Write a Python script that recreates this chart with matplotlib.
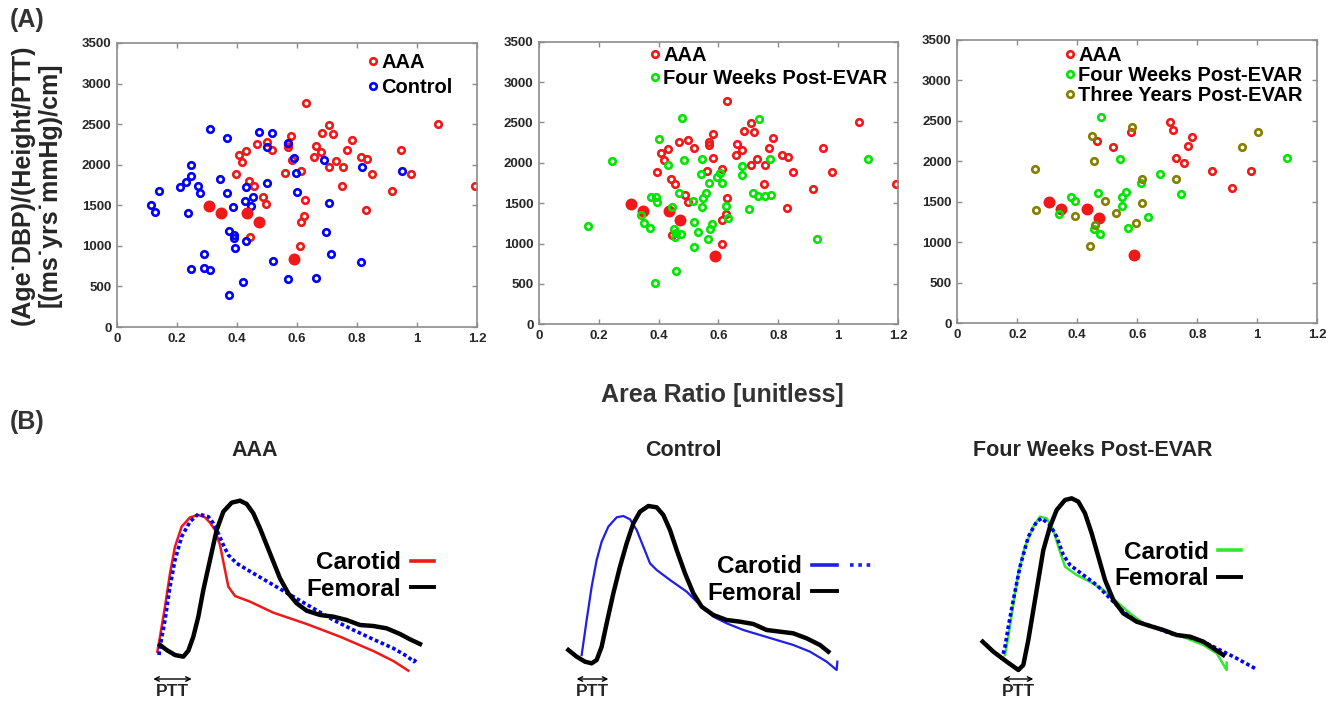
import numpy as np
import matplotlib
matplotlib.use('Agg')
import matplotlib.pyplot as plt
from matplotlib.lines import Line2D
from matplotlib.legend_handler import HandlerTuple
from matplotlib.ticker import FormatStrFormatter

plt.rcParams['font.family'] = ['Liberation Sans', 'DejaVu Sans']
plt.rcParams['font.weight'] = 'bold'

# ---- (A) scatter data: area ratio vs (Age*DBP)/(Height/PTT) ----
aaa_x = [0.629, 0.708, 0.719, 0.684, 0.580, 0.569, 0.569, 0.499, 0.467, 0.518, 0.430, 0.408,
         0.417, 0.396, 0.440, 0.456, 0.487, 0.497, 0.444, 0.561, 0.583, 0.613, 0.657, 0.662,
         0.679, 0.708, 0.729, 0.754, 0.768, 0.782, 0.751, 0.812, 0.833, 0.850, 0.917, 0.948,
         0.979, 1.070, 1.194, 0.627, 0.624, 0.613, 0.611, 0.830]
aaa_y = [2763, 2491, 2384, 2397, 2360, 2261, 2216, 2277, 2257, 2183, 2174, 2117,
         2030, 1882, 1804, 1738, 1598, 1511, 1108, 1903, 2063, 1919, 2096, 2236,
         2154, 1968, 2047, 1977, 2187, 2302, 1742, 2092, 2071, 1882, 1672, 2183,
         1886, 2500, 1742, 1565, 1367, 1293, 997, 1441]
# AAA patients that also have the three-year follow-up
aaa_3yr_idx = [1, 2, 29, 28, 26, 27, 4, 9, 8, 33, 36, 34]
# highlighted AAA patients (filled)
aaa_fill_x = [0.306, 0.346, 0.434, 0.472, 0.589]
aaa_fill_y = [1495, 1408, 1408, 1297, 840]

ctrl_x = [0.113, 0.126, 0.141, 0.211, 0.231, 0.247, 0.247, 0.238, 0.269, 0.278, 0.309, 0.344,
          0.367, 0.367, 0.387, 0.374, 0.389, 0.391, 0.392, 0.429, 0.426, 0.430, 0.447, 0.453,
          0.472, 0.500, 0.500, 0.516, 0.569, 0.589, 0.597, 0.599, 0.570, 0.519, 0.420, 0.374,
          0.247, 0.290, 0.311, 0.289, 0.662, 0.690, 0.698, 0.708, 0.713, 0.814, 0.817, 0.951]
ctrl_y = [1503, 1421, 1672, 1725, 1791, 1857, 2001, 1404, 1738, 1647, 2446, 1828,
          2335, 1647, 1474, 1178, 1132, 1100, 968, 1058, 1552, 1721, 1487, 1606,
          2409, 1775, 2224, 2388, 2265, 2088, 1894, 1668, 589, 819, 552, 391,
          712, 733, 700, 894, 609, 2055, 1165, 1524, 894, 795, 1977, 1923]

fw_x = [0.245, 0.165, 0.401, 0.479, 0.735, 0.431, 0.484, 0.545, 0.543, 0.568, 0.595, 0.606,
        0.611, 0.680, 0.680, 0.771, 0.715, 0.732, 0.754, 0.777, 0.702, 0.626, 0.632, 0.559,
        0.548, 0.546, 0.515, 0.468, 0.446, 0.373, 0.390, 0.393, 0.342, 0.350, 0.370, 0.519,
        0.530, 0.565, 0.570, 0.577, 0.450, 0.459, 0.475, 0.455, 0.519, 0.459, 0.388, 0.929, 1.101]
fw_y = [2023, 1222, 2295, 2559, 2539, 1977, 2035, 2043, 1858, 1754, 1820, 1878,
        1746, 1965, 1845, 2043, 1631, 1589, 1589, 1598, 1424, 1470, 1313, 1626,
        1560, 1457, 1523, 1622, 1457, 1581, 1581, 1519, 1354, 1259, 1189, 1267,
        1143, 1053, 1176, 1238, 1176, 1127, 1115, 1086, 962, 665, 516, 1053, 2043]

fw3_x = [0.479, 0.544, 0.378, 0.392, 0.468, 0.549, 0.562, 0.548, 0.676, 0.613, 0.744, 0.637,
         0.568, 0.456, 0.476, 0.340, 1.098]
fw3_y = [2553, 2034, 1565, 1511, 1614, 1557, 1622, 1450, 1845, 1738, 1594, 1314,
         1174, 1161, 1108, 1347, 2047]

ty_x = [0.260, 0.264, 0.392, 0.449, 0.457, 0.584, 0.616, 0.616, 0.494, 0.529, 0.597, 0.459,
        0.444, 0.728, 0.949, 1.003]
ty_y = [1903, 1400, 1326, 2314, 2005, 2426, 1779, 1491, 1511, 1367, 1244, 1215,
        959, 1779, 2183, 2368]

# ---- (B) representative waveforms (time, amplitude in arbitrary units) ----
aaa_car_t = [52, 60, 75, 90, 105, 125, 150, 175, 195, 210, 225, 240, 255, 265, 285, 330, 400, 500, 600, 700, 760, 805]
aaa_car_a = [145, 190, 280, 380, 460, 520, 548, 555, 548, 532, 510, 465, 390, 340, 312, 295, 262, 228, 190, 147, 117, 88]
aaa_ref_t = [57, 62, 75, 90, 105, 125, 150, 175, 205, 220, 235, 250, 265, 290, 340, 400, 460, 520, 580, 640, 700, 760, 800, 822, 828]
aaa_ref_a = [135, 170, 240, 340, 420, 490, 535, 558, 550, 530, 500, 465, 435, 410, 380, 345, 310, 275, 240, 210, 182, 155, 132, 115, 122]
aaa_fem_t = [60, 80, 105, 130, 145, 160, 175, 190, 210, 230, 250, 275, 300, 320, 340, 360, 380, 400, 420, 445,
             470, 500, 540, 580, 620, 660, 700, 740, 780, 810, 840]
aaa_fem_a = [165, 150, 135, 130, 148, 190, 250, 330, 420, 510, 565, 592, 598, 588, 560, 515, 465, 415, 365, 320,
             290, 268, 255, 250, 240, 225, 222, 215, 198, 182, 168]

ctl_car_t = [65, 80, 95, 110, 125, 145, 170, 190, 210, 230, 250, 270, 290, 330, 380, 420, 460, 500, 550, 600,
             650, 700, 750, 800, 830, 832]
ctl_car_a = [135, 240, 340, 420, 475, 520, 548, 552, 542, 510, 460, 410, 390, 360, 325, 285, 250, 230, 210, 195,
             180, 165, 145, 115, 90, 115]
ctl_fem_t = [25, 50, 75, 95, 110, 125, 140, 160, 180, 200, 220, 240, 265, 290, 310, 330, 350, 375, 400, 425,
             460, 500, 540, 580, 620, 660, 700, 740, 780, 805]
ctl_fem_a = [150, 130, 115, 110, 120, 160, 230, 320, 400, 470, 530, 565, 582, 578, 555, 510, 450, 380, 320, 280,
             255, 240, 235, 228, 210, 205, 200, 185, 165, 145]

fw_car_t = [105, 115, 130, 145, 165, 190, 210, 230, 250, 265, 285, 320, 360, 400, 440, 480, 520, 560, 600, 650,
            700, 740, 770, 770]
fw_car_a = [135, 190, 290, 380, 460, 520, 550, 545, 510, 460, 400, 375, 355, 330, 295, 260, 230, 215, 200, 185,
            165, 140, 90, 112]
fw_ref_t = [95, 105, 115, 130, 150, 175, 200, 215, 240, 260, 280, 300, 340, 380, 420, 460, 500, 550, 600, 650,
            700, 750, 800, 860]
fw_ref_a = [120, 160, 220, 300, 400, 490, 535, 545, 525, 490, 435, 405, 375, 345, 305, 265, 235, 220, 200, 190,
            175, 150, 125, 92]
fw_fem_t = [38, 70, 110, 145, 160, 175, 190, 205, 220, 240, 260, 285, 305, 325, 345, 365, 385, 405, 430, 460,
            500, 540, 580, 620, 660, 700, 730, 760]
fw_fem_a = [175, 145, 115, 90, 105, 180, 270, 360, 450, 520, 570, 600, 605, 595, 560, 500, 430, 360, 300, 260,
            235, 222, 210, 195, 190, 175, 155, 135]

ptt_start = [40, 50, 100]
ptt_end = [155, 145, 190]

RED = '#f01818'
BLUE = '#0000ff'
GREEN = '#00e600'
OLIVE = '#857f00'
TXT = '#262626'

fig = plt.figure(figsize=(13.38, 7.01), dpi=100)

ax1 = fig.add_axes([0.08744, 0.53352, 0.26906, 0.40514])
ax2 = fig.add_axes([0.40284, 0.53738, 0.26831, 0.40314])
ax3 = fig.add_axes([0.71547, 0.53880, 0.26906, 0.40414])

ms_open = dict(linestyle='none', marker='o', mfc='none', ms=4.7, mew=1.9)
ms_fill = dict(linestyle='none', marker='o', ms=8.6, mew=0)
leg_kw = dict(loc='upper left', frameon=False, fontsize=14.5, handlelength=0.5,
              handletextpad=0.15, borderpad=0, borderaxespad=0)

def style_scatter(ax):
    ax.set_xlim(0, 1.2)
    ax.set_ylim(0, 3500)
    ax.set_xticks(np.arange(0, 1.21, 0.2))
    ax.set_yticks(np.arange(0, 3501, 500))
    ax.xaxis.set_major_formatter(FormatStrFormatter('%g'))
    ax.tick_params(direction='in', length=3.5, width=1, color='#8c8c8c', labelcolor=TXT,
                   labelsize=9.5, top=True, right=True, pad=4)
    for s in ax.spines.values():
        s.set_color('#8c8c8c')
        s.set_linewidth(1.2)

# panel 1: AAA vs control
h1, = ax1.plot(aaa_x, aaa_y, color=RED, mec=RED, **ms_open)
h2, = ax1.plot(ctrl_x, ctrl_y, color=BLUE, mec=BLUE, **ms_open)
ax1.plot(aaa_fill_x, aaa_fill_y, color=RED, **ms_fill)
style_scatter(ax1)
ax1.legend([h1, h2], ['AAA', 'Control'], bbox_to_anchor=(0.698, 0.964), labelspacing=0.28, **leg_kw)

# panel 2: AAA vs four weeks post-EVAR
h1, = ax2.plot(aaa_x, aaa_y, color=RED, mec=RED, **ms_open)
ax2.plot(aaa_fill_x, aaa_fill_y, color=RED, **ms_fill)
h2, = ax2.plot(fw_x, fw_y, color=GREEN, mec=GREEN, **ms_open)
style_scatter(ax2)
ax2.legend([h1, h2], ['AAA', 'Four Weeks Post-EVAR'], bbox_to_anchor=(0.309, 0.984),
           labelspacing=0.2, **leg_kw)

# panel 3: AAA vs four weeks vs three years post-EVAR
a3x = [aaa_x[i] for i in aaa_3yr_idx]
a3y = [aaa_y[i] for i in aaa_3yr_idx]
h1, = ax3.plot(a3x, a3y, color=RED, mec=RED, **ms_open)
ax3.plot(aaa_fill_x, aaa_fill_y, color=RED, **ms_fill)
h2, = ax3.plot(fw3_x, fw3_y, color=GREEN, mec=GREEN, **ms_open)
h3, = ax3.plot(ty_x, ty_y, color=OLIVE, mec=OLIVE, **ms_open)
style_scatter(ax3)
ax3.legend([h1, h2, h3], ['AAA', 'Four Weeks Post-EVAR', 'Three Years Post-EVAR'],
           bbox_to_anchor=(0.299, 0.979), labelspacing=0.06, **leg_kw)

fig.text(36 / 1338, 1 - 185 / 701, '(Age˙DBP)/(Height/PTT)\n[(ms˙yrs˙mmHg)/cm]', rotation=90,
         ha='center', va='center', fontsize=18, linespacing=1.15, color=TXT)
fig.text(722 / 1338, 1 - 395 / 701, 'Area Ratio [unitless]', ha='center', va='center',
         fontsize=18, color='#333333')
fig.text(27 / 1338, 1 - 20 / 701, '(A)', ha='center', va='center', fontsize=18, color='#333333')
fig.text(27 / 1338, 1 - 422 / 701, '(B)', ha='center', va='center', fontsize=18, color='#333333')

# ---- (B) waveforms ----
b_left = [140 / 1338, 560 / 1338, 970 / 1338]
b_titles = ['AAA', 'Control', 'Four Weeks Post-EVAR']
b_title_x = [255, 683, 1093]
axb = [fig.add_axes([l, 0.00143, 300 / 1338, 220 / 701]) for l in b_left]
for ax in axb:
    ax.set_xlim(0, 900)
    ax.set_ylim(0, 660)
    ax.axis('off')
for x, t in zip(b_title_x, b_titles):
    fig.text(x / 1338, 1 - 450 / 701, t, ha='center', va='center', fontsize=15.5, color=TXT)

dots = (0, (1, 0.75))
bleg_kw = dict(loc='upper left', markerfirst=False, frameon=False, fontsize=17.5,
               handletextpad=0.4, labelspacing=0.15, borderpad=0, borderaxespad=0)

ax = axb[0]
ax.plot(aaa_car_t, aaa_car_a, color=RED, lw=1.8)
ax.plot(aaa_ref_t, aaa_ref_a, color=BLUE, lw=2.6, linestyle=dots)
ax.plot(aaa_fem_t, aaa_fem_a, color='black', lw=3.2, solid_joinstyle='round')
lg_aaa = [Line2D([], [], color=RED, lw=2.6), Line2D([], [], color='black', lw=2.8)]
ax.legend(lg_aaa, ['Carotid', 'Femoral'], bbox_to_anchor=(0.555, 0.677), handlelength=0.95, **bleg_kw)

ax = axb[1]
ax.plot(ctl_car_t, ctl_car_a, color='#1f1fe6', lw=1.6)
ax.plot(ctl_fem_t, ctl_fem_a, color='black', lw=3.2, solid_joinstyle='round')
lg_ctl = [(Line2D([], [], color='#1f1fe6', lw=2.6),
           Line2D([], [], color='#1f1fe6', lw=2.6, linestyle=(0, (1, 1.3)))),
          (Line2D([], [], color='black', lw=2.8), Line2D([], [], color='none'))]
ax.legend(lg_ctl, ['Carotid', 'Femoral'], bbox_to_anchor=(0.492, 0.658), handlelength=2.6,
          handler_map={tuple: HandlerTuple(ndivide=2, pad=0.55)}, **bleg_kw)

ax = axb[2]
ax.plot(fw_car_t, fw_car_a, color='#33e633', lw=1.8)
ax.plot(fw_ref_t, fw_ref_a, color=BLUE, lw=2.6, linestyle=dots)
ax.plot(fw_fem_t, fw_fem_a, color='black', lw=3.2, solid_joinstyle='round')
lg_fw = [Line2D([], [], color='#33e633', lw=2.6), Line2D([], [], color='black', lw=2.8)]
ax.legend(lg_fw, ['Carotid', 'Femoral'], bbox_to_anchor=(0.48, 0.724), handlelength=0.95, **bleg_kw)

for ax, s, e in zip(axb, ptt_start, ptt_end):
    ax.annotate('', xy=(s, 63), xytext=(e, 63),
                arrowprops=dict(arrowstyle='<->', color='black', lw=1.0, shrinkA=0, shrinkB=0,
                                mutation_scale=8))
    ax.text((s + e) / 2, 25, 'PTT', ha='center', va='center', fontsize=12.5, color=TXT)

fig.savefig('out.png', dpi=100)
